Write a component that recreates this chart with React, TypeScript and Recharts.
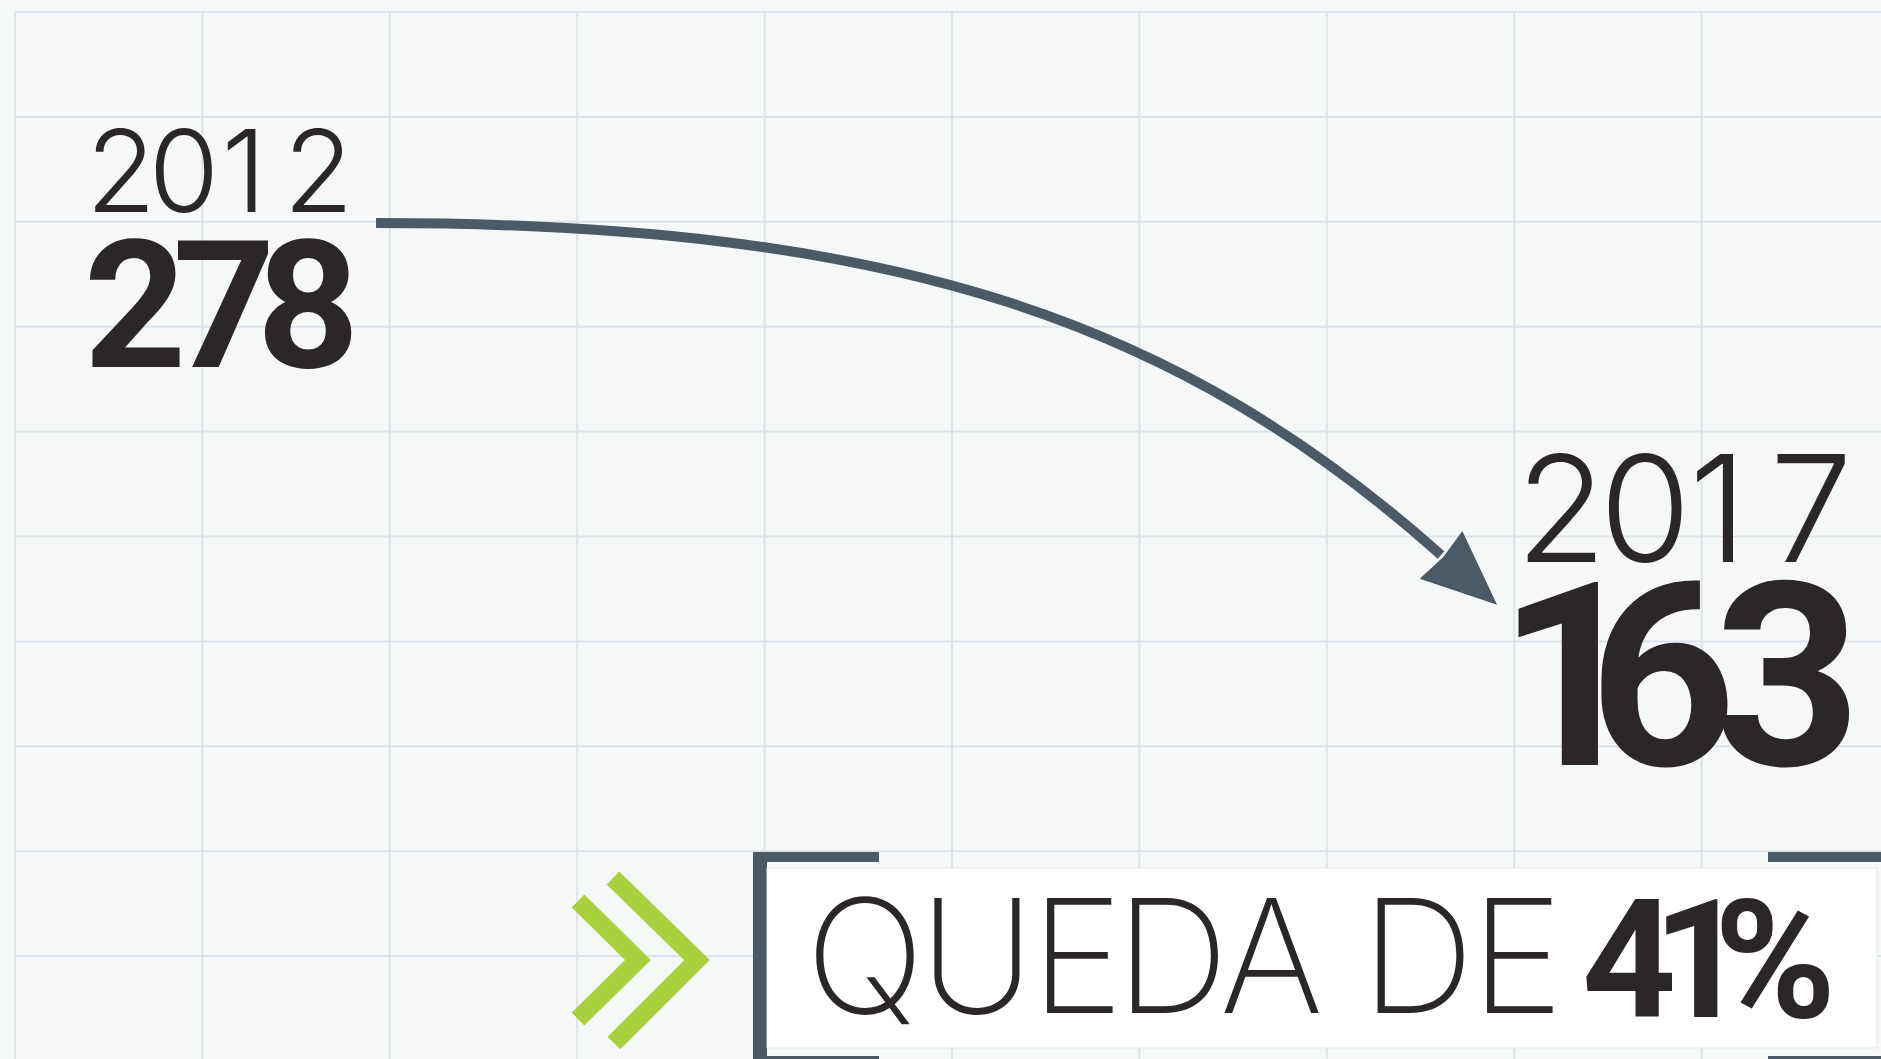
import React from "react";
import { ComposedChart, Line, XAxis, YAxis, CartesianGrid, Customized } from "recharts";

// ---- data ----
const YEARS = [2012, 2017];
const VALUES = [278, 163];
const GRID_TICKS = [0, 1, 2, 3, 4, 5, 6, 7, 8, 9, 10];
const DROP_LABEL = "QUEDA DE";

// ---- layout / style ----
const W = 1881;
const H = 1059;
const BG = "#f6f8f8";
const GRID = "#dde3ea";
const INK = "#2b2728";
const ARROW = "#4b5a65";
const GREEN = "#a9d13d";
const MARGIN = { top: 12, left: 15, right: 6, bottom: 9 };
const CW = 1895;
const CH = 1070;
const X_DOMAIN: [number, number] = [2010.305, 2019.103];
const Y_DOMAIN: [number, number] = [-12.3, 351.1];
const ARROW_ANGLE = (41.7 * Math.PI) / 180;
const LIGHT = "Inter, Roboto, sans-serif";
const THIN = "Inter, Roboto, sans-serif";
const BOLD = "Roboto, sans-serif";

// glyph centres relative to the data point (start / end of the arrow)
const START_YEAR_DX = [-255, -192, -132, -57.5];
const START_VALUE_DX = [-241, -152, -68];
const END_YEAR_DX = [120, 204, 277, 370];
const END_VALUE_DX = [130, 221.5, 346.5];
const DROP_LABEL_X = [865, 977, 1077, 1172, 1271.5, 1344, 1417.5, 1517];
const DROP_PCT_X = [1629, 1700, 1775];

const chartData = YEARS.map((year, i) => ({ year, value: VALUES[i] }));
const dropPct = Math.round((1 - VALUES[1] / VALUES[0]) * 100);

const xs = (base: number, offs: number[]) => offs.map((o) => (base + o).toFixed(1)).join(" ");

const gridOffset = (args: any) =>
  args && args.offset && args.offset.width
    ? args.offset
    : {
        left: MARGIN.left,
        top: MARGIN.top,
        width: CW - MARGIN.left - MARGIN.right,
        height: CH - MARGIN.top - MARGIN.bottom,
      };
const vGen = (args: any) => {
  const o = gridOffset(args);
  const n = GRID_TICKS.length - 1;
  return GRID_TICKS.map((t) => o.left + (t / n) * o.width);
};
const hGen = (args: any) => {
  const o = gridOffset(args);
  const n = GRID_TICKS.length - 1;
  return GRID_TICKS.map((t) => o.top + (t / n) * o.height);
};

// custom curve: horizontal start tangent, bending down into the arrowhead
const arrowCurve = (context: any) => {
  let pts: number[][] = [];
  return {
    areaStart() {},
    areaEnd() {},
    lineStart() {
      pts = [];
    },
    point(x: number, y: number) {
      pts.push([x, y]);
    },
    lineEnd() {
      if (pts.length < 2) return;
      const a = pts[0];
      const b = pts[pts.length - 1];
      const dx = b[0] - a[0];
      const dy = b[1] - a[1];
      context.moveTo(a[0], a[1]);
      context.bezierCurveTo(a[0] + dx * 0.492, a[1], b[0] - dx * 0.245, b[1] - dy * 0.7, b[0], b[1]);
    },
  };
};

const renderDot = (props: any) => {
  const { cx, cy, index, payload } = props;
  if (cx == null || cy == null) return <g key={`d${index}`} />;
  if (index === 0) {
    return (
      <g key={`d${index}`}>
        <text x={xs(cx, START_YEAR_DX)} y={cy - 11} textAnchor="middle" fontFamily={LIGHT} fontWeight={300} fontSize={114} fill={INK}>
          {String(payload.year)}
        </text>
        <text x={xs(cx, START_VALUE_DX)} y={cy + 144} textAnchor="middle" fontFamily={BOLD} fontWeight={700} fontSize={179} fill={INK}>
          {String(payload.value)}
        </text>
      </g>
    );
  }
  const c = Math.cos(ARROW_ANGLE);
  const s = Math.sin(ARROW_ANGLE);
  const tip = [cx + 75 * c, cy + 75 * s];
  const l = [cx + 32 * s, cy - 32 * c];
  const r = [cx - 32 * s, cy + 32 * c];
  const notch = [cx + 3 * c, cy + 3 * s];
  return (
    <g key={`d${index}`}>
      <polygon
        points={`${tip[0]},${tip[1]} ${l[0]},${l[1]} ${notch[0]},${notch[1]} ${r[0]},${r[1]}`}
        fill={ARROW}
      />
      <text x={xs(cx, END_YEAR_DX)} y={cy + 7} textAnchor="middle" fontFamily={LIGHT} fontWeight={300} fontSize={148} fill={INK}>
        {String(payload.year)}
      </text>
      <text x={xs(cx, END_VALUE_DX)} y={cy + 210} textAnchor="middle" fontFamily={BOLD} fontWeight={700} fontSize={257} fill={INK}>
        {String(payload.value)}
      </text>
    </g>
  );
};

const DropBox = () => (
  <g>
    {/* chevrons */}
    <polyline points="578,901 638,960 578,1019" fill="none" stroke={GREEN} strokeWidth={18} strokeLinejoin="miter" />
    <polyline points="613,878 697,960 614,1043" fill="none" stroke={GREEN} strokeWidth={18} strokeLinejoin="miter" />
    {/* bracket corners */}
    <rect x={753} y={852} width={14} height={220} fill={ARROW} />
    <rect x={753} y={852} width={126} height={10} fill={ARROW} />
    <rect x={753} y={1056} width={126} height={10} fill={ARROW} />
    <rect x={1768} y={852} width={130} height={10} fill={ARROW} />
    <rect x={1768} y={1056} width={130} height={10} fill={ARROW} />
    {/* white panel */}
    <rect x={767} y={868} width={1110} height={180} fill="#ffffff" stroke="#e4e7ea" strokeWidth={1} />
    <text x={DROP_LABEL_X.join(" ")} y={1013} textAnchor="middle" fill={INK} fontFamily={THIN} fontWeight={150} fontSize={158}>
      {DROP_LABEL}
    </text>
    <text x={DROP_PCT_X.join(" ")} y={1017} textAnchor="middle" fill={INK} fontFamily={BOLD} fontWeight={700} fontSize={165}>
      {`${dropPct}%`}
    </text>
  </g>
);

export default function App() {
  return (
    <div style={{ position: "absolute", left: 0, top: 0, width: W, height: H, overflow: "hidden", background: BG }}>
      <ComposedChart width={CW} height={CH} data={chartData} margin={MARGIN}>
        <XAxis xAxisId="year" type="number" dataKey="year" domain={X_DOMAIN} allowDataOverflow hide />
        <YAxis yAxisId="value" type="number" domain={Y_DOMAIN} allowDataOverflow hide />
        <CartesianGrid
          xAxisId="year"
          yAxisId="value"
          stroke={GRID}
          strokeWidth={2}
          verticalCoordinatesGenerator={vGen}
          horizontalCoordinatesGenerator={hGen}
        />
        <Customized component={DropBox} />
        <Line
          xAxisId="year"
          yAxisId="value"
          dataKey="value"
          type={arrowCurve as any}
          stroke={ARROW}
          strokeWidth={10}
          dot={renderDot}
          activeDot={false}
          isAnimationActive={false}
        />
      </ComposedChart>
    </div>
  );
}
